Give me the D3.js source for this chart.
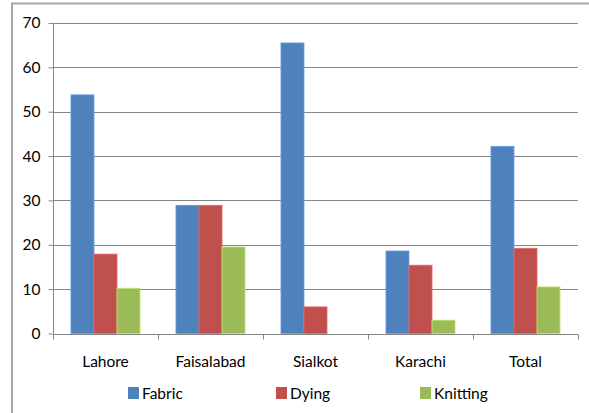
<!DOCTYPE html>
<html>
<head>
<meta charset="utf-8">
<script src="https://cdn.jsdelivr.net/npm/d3@7"></script>
<style>
  html, body { margin: 0; padding: 0; background: #fff; }
  svg { display: block; }
  text { font-family: Lato, "Open Sans", sans-serif; fill: #000; }
</style>
</head>
<body>
<svg id="chart" width="589" height="413"></svg>
<script>
// Share of units by city and process (percent)
const cities = ["Lahore", "Faisalabad", "Sialkot", "Karachi", "Total"];
const seriesNames = ["Fabric", "Dying", "Knitting"];
const fabric = [53.8, 28.9, 65.5, 18.6, 42.2];
const dying = [17.9, 28.9, 6.0, 15.4, 19.2];
const knitting = [10.2, 19.5, 0, 3.0, 10.5];
const yTicks = [0, 10, 20, 30, 40, 50, 60, 70];
const colors = ["#4F81BD", "#C0504D", "#9BBB59"];

const values = [fabric, dying, knitting];

const svg = d3.select("#chart");
const W = 589, H = 413;
const plot = { left: 53, right: 578, top: 23, bottom: 333.5 };
const fontSize = "15.5px";

// chart frame (left and top edges)
svg.append("path")
  .attr("d", `M12,${H}V3.5H${W}`)
  .attr("fill", "none").attr("stroke", "#a6a6a6").attr("stroke-width", 2);

const x = d3.scaleBand().domain(cities).range([plot.left, plot.right]);
const inner = d3.scaleBand().domain(seriesNames).range([0, x.bandwidth()]).paddingInner(0).paddingOuter(0.78);
const y = d3.scaleLinear().domain([0, 70]).range([plot.bottom, plot.top]);

// horizontal gridlines
svg.append("g").selectAll("line")
  .data(yTicks.filter(d => d > 0))
  .join("line")
  .attr("x1", plot.left).attr("x2", plot.right)
  .attr("y1", d => Math.round(y(d)) + 0.5).attr("y2", d => Math.round(y(d)) + 0.5)
  .attr("stroke", "#868686").attr("stroke-width", 1);

// bars
const groups = svg.append("g").selectAll("g")
  .data(cities)
  .join("g")
  .attr("transform", d => `translate(${x(d)},0)`);

groups.selectAll("rect")
  .data((c, i) => seriesNames.map((s, k) => ({ s, k, v: values[k][i] })))
  .join("rect")
  .filter(d => d.v > 0)
  .attr("x", d => inner(d.s))
  .attr("width", inner.bandwidth())
  .attr("y", d => y(d.v))
  .attr("height", d => y(0) - y(d.v))
  .attr("fill", d => colors[d.k])
  .attr("stroke", d => d3.color(colors[d.k]).brighter(0.6))
  .attr("stroke-width", 0.8);

// y axis
const yAxis = d3.axisLeft(y).tickValues(yTicks).tickSize(5).tickPadding(8);
const gy = svg.append("g").attr("transform", `translate(${plot.left + 0.5},0)`).call(yAxis);
gy.select(".domain").attr("stroke", "#868686").attr("d", `M0,${plot.bottom}V${plot.top}`);
gy.selectAll(".tick line").attr("stroke", "#868686");
gy.selectAll(".tick text").style("font-size", fontSize).style("font-family", "Lato, sans-serif").attr("fill", "#000");

// x axis with ticks at category boundaries
const gx = svg.append("g").attr("transform", `translate(0,${Math.round(plot.bottom) + 0.5})`);
gx.append("line").attr("x1", plot.left).attr("x2", plot.right).attr("stroke", "#868686");
const bounds = cities.map(c => x(c)).concat([x(cities[cities.length - 1]) + x.bandwidth()]);
gx.selectAll("line.tk").data(bounds).join("line").attr("class", "tk")
  .attr("x1", d => Math.round(d) + 0.5).attr("x2", d => Math.round(d) + 0.5)
  .attr("y1", 0).attr("y2", 5).attr("stroke", "#868686");
gx.selectAll("text").data(cities).join("text")
  .attr("x", d => x(d) + x.bandwidth() / 2)
  .attr("y", 32)
  .attr("text-anchor", "middle")
  .style("font-size", fontSize)
  .text(d => d);

// legend
const legendX = [128, 276, 420];
const lg = svg.append("g").selectAll("g").data(seriesNames).join("g")
  .attr("transform", (d, i) => `translate(${legendX[i]},387)`);
lg.append("rect").attr("width", 11).attr("height", 12).attr("fill", (d, i) => colors[i]);
lg.append("text").attr("x", 14).attr("y", 12).style("font-size", fontSize).text(d => d);
</script>
</body>
</html>
